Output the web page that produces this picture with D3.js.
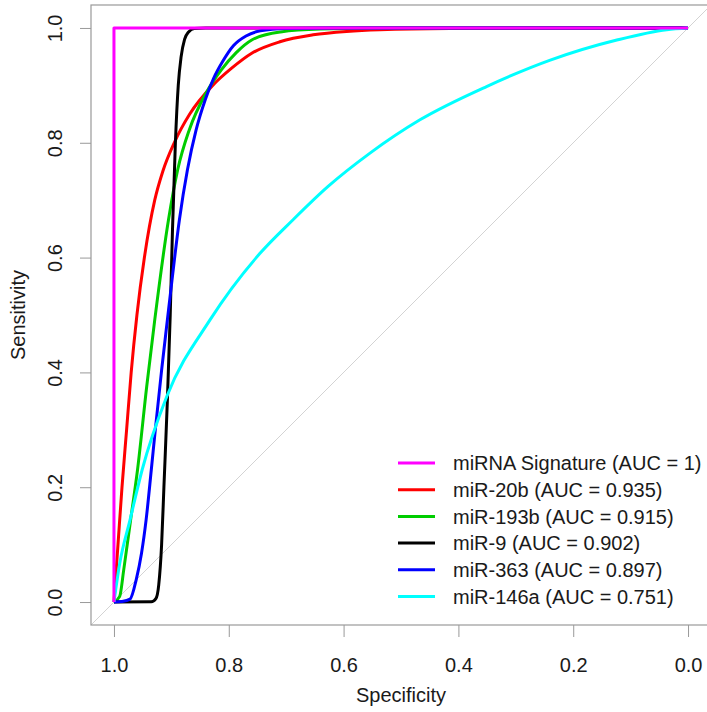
<!DOCTYPE html>
<html>
<head>
<meta charset="utf-8">
<script src="https://cdn.jsdelivr.net/npm/d3@7"></script>
<style>
  body { margin: 0; background: #fff; }
  svg { display: block; font-family: "Liberation Sans", Arial, sans-serif; }
  .tick-label { font-size: 20px; fill: #1a1a1a; }
  .axis-title { font-size: 20px; fill: #1a1a1a; }
  .legend-text { font-size: 20px; fill: #1a1a1a; }
</style>
</head>
<body>
<svg id="chart"></svg>
<script>
// ROC curves: [specificity, sensitivity]
var sigRoc = [[1, 0], [1, 1], [0, 1]];
var mir20bRoc = [[1, 0], [0.993, 0.1], [0.986, 0.2], [0.978, 0.3], [0.97, 0.4], [0.96, 0.5],
  [0.947, 0.6], [0.929, 0.7], [0.915, 0.75], [0.895, 0.8], [0.868, 0.85], [0.828, 0.9],
  [0.795, 0.93], [0.76, 0.956], [0.711, 0.976], [0.653, 0.988], [0.595, 0.994],
  [0.537, 0.997], [0.415, 0.999], [0, 1]];
var mir193bRoc = [[1, 0], [0.99, 0.01], [0.983, 0.056], [0.971, 0.143], [0.959, 0.23],
  [0.943, 0.375], [0.929, 0.491], [0.905, 0.666], [0.889, 0.753], [0.869, 0.822],
  [0.84, 0.886], [0.813, 0.927], [0.787, 0.957], [0.76, 0.979], [0.71, 0.993],
  [0.64, 0.998], [0.5, 1], [0, 1]];
var mir9Roc = [[1, 0], [0.935, 0.0005], [0.927, 0.006], [0.922, 0.03], [0.917, 0.1],
  [0.913, 0.2], [0.907, 0.35], [0.902, 0.5], [0.898, 0.65], [0.893, 0.8], [0.888, 0.9],
  [0.883, 0.95], [0.877, 0.98], [0.87, 0.993], [0.86, 0.999], [0.84, 1], [0, 1]];
var mir363Roc = [[1, 0], [0.986, 0.001], [0.972, 0.005], [0.961, 0.04], [0.952, 0.085],
  [0.944, 0.143], [0.935, 0.23], [0.928, 0.3], [0.917, 0.404], [0.907, 0.491],
  [0.899, 0.56], [0.886, 0.666], [0.872, 0.753], [0.857, 0.822], [0.841, 0.875],
  [0.826, 0.913], [0.811, 0.941], [0.792, 0.969], [0.77, 0.986], [0.745, 0.995],
  [0.7, 0.999], [0.62, 1], [0, 1]];
var mir146aRoc = [[1, 0], [0.99, 0.067], [0.972, 0.143], [0.951, 0.23], [0.908, 0.358],
  [0.833, 0.491], [0.746, 0.607], [0.688, 0.666], [0.627, 0.724], [0.554, 0.782],
  [0.467, 0.84], [0.351, 0.898], [0.24, 0.944], [0.124, 0.979], [0.037, 0.997], [0, 1]];

var seriesNames = ["miRNA Signature (AUC = 1)", "miR-20b (AUC = 0.935)", "miR-193b (AUC = 0.915)",
  "miR-9 (AUC = 0.902)", "miR-363 (AUC = 0.897)", "miR-146a (AUC = 0.751)"];
var seriesData = [sigRoc, mir20bRoc, mir193bRoc, mir9Roc, mir363Roc, mir146aRoc];
var seriesColors = ["#ff00ff", "#ff0000", "#00cd00", "#000000", "#0000ff", "#00ffff"];

var tickValues = [1.0, 0.8, 0.6, 0.4, 0.2, 0.0];

var width = 707, height = 712;
var box = {left: 91, top: 5, right: 711, bottom: 625};

var svg = d3.select("#chart")
    .attr("width", width)
    .attr("height", height);

var x = d3.scaleLinear().domain([1.04, -0.04]).range([box.left, box.right]);
var y = d3.scaleLinear().domain([-0.04, 1.04]).range([box.bottom, box.top]);

svg.append("clipPath").attr("id", "plotclip")
  .append("rect")
    .attr("x", box.left).attr("y", box.top)
    .attr("width", box.right - box.left).attr("height", box.bottom - box.top);

// diagonal reference line
svg.append("line")
    .attr("clip-path", "url(#plotclip)")
    .attr("x1", x(1.04)).attr("y1", y(-0.04))
    .attr("x2", x(-0.04)).attr("y2", y(1.04))
    .attr("stroke", "#d3d3d3")
    .attr("stroke-width", 1);

// axes
var xAxis = svg.append("g")
    .attr("transform", "translate(0," + box.bottom + ")")
    .call(d3.axisBottom(x).tickValues(tickValues).tickSize(12).tickFormat(d3.format(".1f")));
xAxis.select(".domain").remove();
xAxis.selectAll("line").attr("stroke", "#999");
xAxis.selectAll("text")
    .attr("class", "tick-label")
    .attr("y", 33)
    .attr("dy", "0.71em");

var yAxis = svg.append("g")
    .attr("transform", "translate(" + box.left + ",0)")
    .call(d3.axisLeft(y).tickValues(tickValues).tickSize(11).tickFormat(d3.format(".1f")));
yAxis.select(".domain").remove();
yAxis.selectAll("line").attr("stroke", "#999");
yAxis.selectAll("text")
    .attr("class", "tick-label")
    .attr("x", null).attr("dy", null)
    .attr("text-anchor", "middle")
    .attr("transform", "translate(-29,0) rotate(-90)");
svg.selectAll(".tick text").attr("font-family", null).attr("font-size", null).attr("fill", null);
xAxis.attr("font-family", null).attr("font-size", null);
yAxis.attr("font-family", null).attr("font-size", null);

// plot box
svg.append("rect")
    .attr("x", box.left).attr("y", box.top)
    .attr("width", box.right - box.left).attr("height", box.bottom - box.top)
    .attr("fill", "none")
    .attr("stroke", "#999")
    .attr("stroke-width", 1.2);

// axis titles
svg.append("text")
    .attr("class", "axis-title")
    .attr("x", (box.left + box.right) / 2)
    .attr("y", 702)
    .attr("text-anchor", "middle")
    .text("Specificity");

svg.append("text")
    .attr("class", "axis-title")
    .attr("transform", "translate(25," + (box.top + box.bottom) / 2 + ") rotate(-90)")
    .attr("text-anchor", "middle")
    .text("Sensitivity");

// curves
var smooth = d3.line()
    .x(function(d) { return x(d[0]); })
    .y(function(d) { return y(d[1]); })
    .curve(d3.curveMonotoneX);
var straight = d3.line()
    .x(function(d) { return x(d[0]); })
    .y(function(d) { return y(d[1]); });

// signature drawn last so it sits on top
var order = [1, 2, 3, 4, 5, 0];
order.forEach(function(i) {
  svg.append("path")
      .datum(seriesData[i])
      .attr("d", i === 0 ? straight : smooth)
      .attr("fill", "none")
      .attr("stroke", seriesColors[i])
      .attr("stroke-width", 3)
      .attr("stroke-linejoin", "round");
});

// legend
var legend = svg.append("g").attr("transform", "translate(398,463)");
seriesNames.forEach(function(name, i) {
  var row = legend.append("g").attr("transform", "translate(0," + (i * 26.7) + ")");
  row.append("line")
      .attr("x1", 0).attr("x2", 37)
      .attr("y1", 0).attr("y2", 0)
      .attr("stroke", seriesColors[i])
      .attr("stroke-width", 3);
  row.append("text")
      .attr("class", "legend-text")
      .attr("x", 55)
      .attr("dy", "0.36em")
      .text(name);
});
</script>
</body>
</html>
